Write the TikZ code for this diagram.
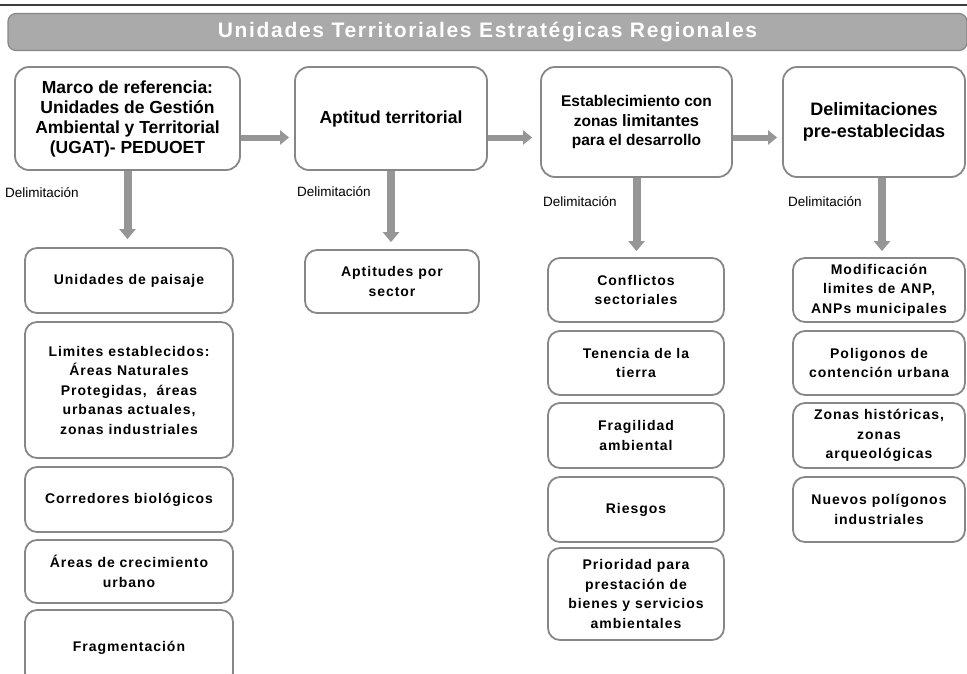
\documentclass[tikz,border=0pt]{standalone}
\usepackage{fontspec}
\setmainfont{Liberation Sans}
\usetikzlibrary{arrows.meta}
\definecolor{bord}{RGB}{135,135,135}
\definecolor{arr}{RGB}{150,150,150}
\definecolor{ban}{RGB}{170,170,170}
\definecolor{topline}{RGB}{60,60,60}
\newfontfamily\spacedfont[LetterSpace=7]{Liberation Sans}
\newfontfamily\titlefont[LetterSpace=8]{Liberation Sans}
\begin{document}
\begin{tikzpicture}[x=1pt,y=-1pt,
  bigbox/.style={draw=bord,line width=1.8pt,rounded corners=14pt,fill=white,align=center,font=\bfseries,inner sep=2pt},
  subbox/.style={draw=bord,line width=1.8pt,rounded corners=12pt,fill=white,align=center,font=\spacedfont\bfseries\fontsize{14}{19.5}\selectfont,inner sep=2pt},
  lbl/.style={anchor=west,font=\fontsize{13.5}{15}\selectfont,inner sep=0pt},
  harr/.style={draw=arr,line width=6pt,-{Triangle[length=9pt,width=14pt]}},
  varr/.style={draw=arr,line width=8pt,-{Triangle[length=10pt,width=16pt]}}]
\useasboundingbox (0,0) rectangle (967,673);
\draw[topline,line width=2pt] (0,5) -- (967,5);
\node[draw=bord,line width=1.2pt,fill=ban,rounded corners=8pt,minimum width=959pt,minimum height=37pt,inner sep=0pt,text=white,font=\titlefont\bfseries\fontsize{21}{24}\selectfont] (ban) at (487.5,32) {Unidades Territoriales Estratégicas Regionales};
% top boxes
\node[bigbox,minimum width=225pt,minimum height=103pt,font=\bfseries\fontsize{17.5}{20}\selectfont] (b1) at (127.5,118.5) {Marco de referencia:\\Unidades de Gestión\\Ambiental y Territorial\\(UGAT)- PEDUOET};
\node[bigbox,minimum width=192pt,minimum height=103pt,font=\bfseries\fontsize{17.5}{20}\selectfont] (b2) at (391,118.5) {Aptitud territorial};
\node[bigbox,minimum width=191pt,minimum height=110pt,font=\bfseries\fontsize{15.5}{19.5}\selectfont] (b3) at (636.5,122) {Establecimiento con\\zonas {\fontsize{16.5}{19.5}\selectfont limitantes}\\para el desarrollo};
\node[bigbox,minimum width=182pt,minimum height=110pt,font=\bfseries\fontsize{18}{22}\selectfont] (b4) at (874,122) {Delimitaciones\\pre-establecidas};
% column 1
\node[subbox,minimum width=208pt,minimum height=65pt] (s11) at (129,280.5) {Unidades de paisaje};
\node[subbox,minimum width=208pt,minimum height=136pt] (s12) at (129,390) {Limites establecidos:\\Áreas Naturales\\Protegidas,\ \ áreas\\urbanas actuales,\\zonas industriales};
\node[subbox,minimum width=208pt,minimum height=65pt] (s13) at (129,499.5) {Corredores biológicos};
\node[subbox,minimum width=208pt,minimum height=63pt] (s14) at (129,571.5) {Áreas de crecimiento\\urbano};
\node[subbox,minimum width=208pt,minimum height=75pt] (s15) at (129,647.5) {Fragmentación};
% column 2
\node[subbox,minimum width=174pt,minimum height=63pt] (s21) at (392,281.5) {Aptitudes por\\sector};
% column 3
\node[subbox,minimum width=176pt,minimum height=64pt] (s31) at (636,290) {Conflictos\\sectoriales};
\node[subbox,minimum width=176pt,minimum height=64pt] (s32) at (636,363) {Tenencia de la\\tierra};
\node[subbox,minimum width=176pt,minimum height=65pt] (s33) at (636,435.5) {Fragilidad\\ambiental};
\node[subbox,minimum width=176pt,minimum height=65pt] (s34) at (636,509.5) {Riesgos};
\node[subbox,minimum width=176pt,minimum height=92pt] (s35) at (636,594) {Prioridad para\\prestación de\\bienes y servicios\\ambientales};
% column 4
\node[subbox,minimum width=172pt,minimum height=64pt] (s41) at (879,290) {Modificación\\limites de ANP,\\ANPs municipales};
\node[subbox,minimum width=172pt,minimum height=64pt] (s42) at (879,363) {Poligonos de\\contención urbana};
\node[subbox,minimum width=172pt,minimum height=65pt] (s43) at (879,435.5) {Zonas históricas,\\zonas\\arqueológicas};
\node[subbox,minimum width=172pt,minimum height=65pt] (s44) at (879,509.5) {Nuevos polígonos\\industriales};
% labels
\node[lbl] (d1) at (5,193) {Delimitación};
\node[lbl] (d2) at (297,192) {Delimitación};
\node[lbl] (d3) at (543,202) {Delimitación};
\node[lbl] (d4) at (788,202) {Delimitación};
% arrows
\coordinate (hr) at (0,137.5);
\draw[harr,shorten >=5pt] (b1.east |- hr) -- (b2.west |- hr);
\draw[harr,shorten >=8pt] (b2.east |- hr) -- (b3.west |- hr);
\draw[harr,shorten >=5pt] (b3.east |- hr) -- (b4.west |- hr);
\draw[varr,shorten >=8pt] (b1.south) -- (b1.south |- s11.north);
\draw[varr,shorten >=7pt] (b2.south) -- (b2.south |- s21.north);
\draw[varr,shorten >=6pt] (b3.south) -- (b3.south |- s31.north);
\draw[varr,shorten >=6pt] (b4.south -| 882,0) -- (882,0 |- s41.north);
\end{tikzpicture}
\end{document}
